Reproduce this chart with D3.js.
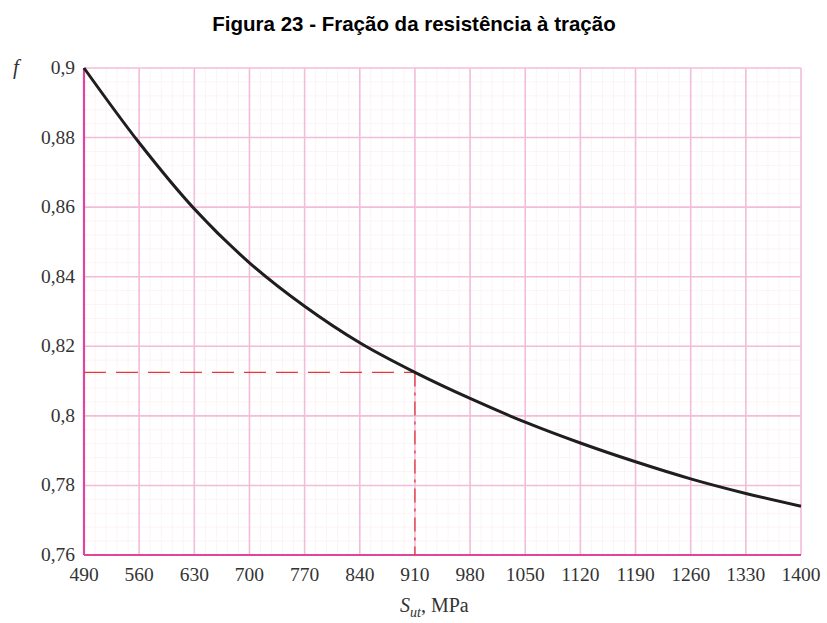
<!DOCTYPE html>
<html><head><meta charset="utf-8">
<script src="https://cdn.jsdelivr.net/npm/d3@7"></script>
<style>body{margin:0;background:#fff}svg{display:block}</style>
</head><body>
<script>
const sutValues = [490,560,630,700,770,840,910,980,1050,1120,1190,1260,1330,1400];
const fValues   = [0.900,0.8785,0.8595,0.8440,0.8315,0.8210,0.8125,0.8050,0.7982,0.7922,0.7868,0.7819,0.7777,0.7740];
const xTicks = [490,560,630,700,770,840,910,980,1050,1120,1190,1260,1330,1400];
const yTicks = [0.76,0.78,0.80,0.82,0.84,0.86,0.88,0.90];
const yTickLabels = ["0,76","0,78","0,8","0,82","0,84","0,86","0,88","0,9"];
const markSut = 910, markF = 0.8125;

const W=827,H=623;
const svg=d3.select("body").append("svg").attr("width",W).attr("height",H);
const x=d3.scaleLinear().domain([490,1400]).range([84,801]);
const y=d3.scaleLinear().domain([0.76,0.90]).range([555,68]);

// minor faint grid
const g=svg.append("g");
const minorX=d3.range(490,1400,14), minorY=d3.range(0.76,0.9,0.004);
g.selectAll(".mx").data(minorX).join("line").attr("x1",d=>x(d)).attr("x2",d=>x(d)).attr("y1",y(0.9)).attr("y2",y(0.76)).attr("stroke","#fcf3f7").attr("stroke-width",1);
g.selectAll(".my").data(minorY).join("line").attr("y1",d=>y(d)).attr("y2",d=>y(d)).attr("x1",x(490)).attr("x2",x(1400)).attr("stroke","#fcf3f7").attr("stroke-width",1);
// major grid
g.selectAll(".gx").data(xTicks).join("line").attr("x1",d=>x(d)).attr("x2",d=>x(d)).attr("y1",y(0.9)).attr("y2",y(0.76)).attr("stroke","#f3bcd9").attr("stroke-width",1.6);
g.selectAll(".gy").data(yTicks).join("line").attr("y1",d=>y(d)).attr("y2",d=>y(d)).attr("x1",x(490)).attr("x2",x(1400)).attr("stroke","#f3bcd9").attr("stroke-width",1.6);

// axes lines
svg.append("line").attr("x1",x(490)).attr("x2",x(490)).attr("y1",y(0.9)).attr("y2",y(0.76)).attr("stroke","#e2449c").attr("stroke-width",2.2);
svg.append("line").attr("x1",x(490)).attr("x2",x(1400)).attr("y1",y(0.76)).attr("y2",y(0.76)).attr("stroke","#e2449c").attr("stroke-width",2.2);

// dashed marker
svg.append("line").attr("x1",x(490)).attr("x2",x(markSut)).attr("y1",y(markF)).attr("y2",y(markF)).attr("stroke","#e23a3a").attr("stroke-width",1.3).attr("stroke-dasharray","22,10");
svg.append("line").attr("x1",x(markSut)).attr("x2",x(markSut)).attr("y1",y(markF)).attr("y2",y(0.76)).attr("stroke","#e23a3a").attr("stroke-width",1.3).attr("stroke-dasharray","14,6,3,6");

// curve
const line=d3.line().x((d,i)=>x(sutValues[i])).y(d=>y(d)).curve(d3.curveCatmullRom.alpha(0.5));
svg.append("path").datum(fValues).attr("d",line).attr("fill","none").attr("stroke","#1e1e1e").attr("stroke-width",3);

// tick labels
const serif="'Liberation Serif','Times New Roman','DejaVu Serif',serif";
svg.selectAll(".xl").data(xTicks).join("text").attr("x",d=>x(d)).attr("y",581).attr("text-anchor","middle").attr("font-family",serif).attr("font-size",19.5).attr("fill","#333").text(d=>d);
svg.selectAll(".yl").data(yTicks).join("text").attr("x",75).attr("y",d=>y(d)+6).attr("text-anchor","end").attr("font-family",serif).attr("font-size",19.5).attr("fill","#333").text((d,i)=>yTickLabels[i]);

svg.append("text").attr("x",13).attr("y",74).attr("font-family",serif).attr("font-style","italic").attr("font-size",21).attr("fill","#333").text("f");

const t=svg.append("text").attr("x",400).attr("y",612).attr("font-family",serif).attr("font-size",20).attr("fill","#333");
t.append("tspan").attr("font-style","italic").text("S");
t.append("tspan").attr("font-style","italic").attr("font-size",14).attr("dy",5).text("ut");
t.append("tspan").attr("dy",-5).text(", MPa");

svg.append("text").attr("x",414).attr("y",31).attr("text-anchor","middle").attr("font-family","'Liberation Sans',Arial,sans-serif").attr("font-weight","bold").attr("font-size",20.5).attr("fill","#000").text("Figura 23 - Fração da resistência à tração");
</script>
</body></html>
